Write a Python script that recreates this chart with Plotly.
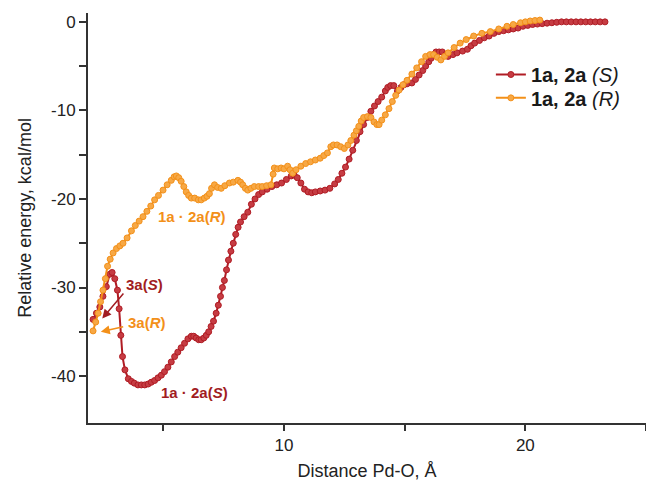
import plotly.graph_objects as go

# Energy profile along Pd-O distance
dist_s = [2.09, 2.23, 2.37, 2.5, 2.64, 2.78, 2.88, 2.99, 3.1, 3.17, 3.24, 3.31, 3.41, 3.55, 3.68,
          3.8, 3.95, 4.09, 4.23, 4.37, 4.5, 4.64, 4.78, 4.92, 5.05, 5.19, 5.33, 5.47, 5.6, 5.74,
          5.88, 6.02, 6.16, 6.26, 6.36, 6.47, 6.57, 6.68, 6.78, 6.88, 6.98, 7.08, 7.19, 7.28, 7.37,
          7.45, 7.53, 7.62, 7.7, 7.8, 7.9, 8.0, 8.1, 8.2, 8.35, 8.5, 8.65, 8.8, 8.95, 9.1,
          9.3, 9.5, 9.7, 9.9, 10.1, 10.3, 10.42, 10.55, 10.7, 10.85, 11.0, 11.15, 11.3, 11.5, 11.7,
          11.9, 12.1, 12.25, 12.4, 12.55, 12.7, 12.85, 13.0, 13.15, 13.3, 13.45, 13.6, 13.75, 13.9, 14.05,
          14.2, 14.3, 14.42, 14.55, 14.7, 14.85, 14.97, 15.1, 15.3, 15.45, 15.6, 15.75, 15.87, 16.0, 16.1,
          16.2, 16.3, 16.43, 16.56, 16.7, 16.8, 17.0, 17.17, 17.4, 17.6, 17.75, 17.9, 18.1, 18.3, 18.5,
          18.7, 18.9, 19.1, 19.3, 19.5, 19.7, 19.9, 20.1, 20.3, 20.5, 20.7, 20.9, 21.1, 21.3, 21.5,
          21.7, 21.9, 22.1, 22.3, 22.5, 22.7, 22.9, 23.1, 23.3]
energy_s = [-33.6, -32.9, -32.2, -31.0, -29.9, -28.5, -28.3, -29.0, -30.3, -32.4, -35.4, -37.8, -39.3, -40.3, -40.6,
            -40.8, -41.0, -41.0, -41.0, -40.9, -40.7, -40.5, -40.2, -39.9, -39.5, -39.0, -38.4, -37.8, -37.3, -36.8,
            -36.3, -35.8, -35.5, -35.5, -35.7, -35.9, -35.9, -35.7, -35.4, -35.0, -34.4, -33.8, -32.9, -32.0, -31.0,
            -30.0, -29.2, -28.0, -26.9, -25.9, -25.0, -24.0, -23.2, -22.6, -22.0, -21.5, -20.6, -20.0, -19.5, -19.2,
            -18.9, -18.6, -18.4, -18.2, -17.8, -17.4, -17.3, -17.6, -18.2, -18.9, -19.2, -19.3, -19.2, -19.1, -19.0,
            -18.8, -18.3, -17.8, -17.1, -16.4, -15.5, -14.5, -13.4, -12.4, -11.6, -10.8, -10.1, -9.5, -9.0, -8.5,
            -7.8, -7.4, -7.2, -7.2, -7.8, -7.4, -7.1, -7.0, -6.9, -6.5, -6.0, -5.5, -5.0, -4.5, -4.1,
            -3.7, -3.4, -3.4, -3.4, -3.7, -3.9, -3.7, -3.5, -3.3, -3.1, -2.7, -2.4, -2.1, -1.8, -1.6,
            -1.3, -1.1, -1.0, -0.9, -0.8, -0.7, -0.5, -0.4, -0.3, -0.25, -0.2, -0.15, -0.1, -0.05, 0.0,
            0.0, 0.0, 0.0, 0.0, 0.0, 0.0, 0.0, 0.0, 0.0]

dist_r = [2.09, 2.2, 2.3, 2.4, 2.5, 2.6, 2.69, 2.8, 2.92, 3.06, 3.2, 3.33, 3.5, 3.68, 3.84,
          4.0, 4.16, 4.32, 4.48, 4.64, 4.8, 4.99, 5.16, 5.33, 5.45, 5.54, 5.64, 5.74, 5.85, 5.95,
          6.05, 6.16, 6.3, 6.45, 6.57, 6.7, 6.81, 6.91, 7.0, 7.12, 7.25, 7.4, 7.55, 7.74, 7.9,
          8.09, 8.2, 8.29, 8.4, 8.5, 8.63, 8.77, 8.95, 9.1, 9.28, 9.46, 9.55, 9.6, 9.74, 9.88,
          10.0, 10.15, 10.25, 10.36, 10.5, 10.7, 10.9, 11.1, 11.3, 11.5, 11.65, 11.8, 11.94, 12.05, 12.2,
          12.35, 12.5, 12.65, 12.77, 12.9, 13.0, 13.1, 13.2, 13.3, 13.46, 13.6, 13.73, 13.85, 13.94, 14.05,
          14.2, 14.35, 14.49, 14.63, 14.77, 14.93, 15.1, 15.3, 15.5, 15.7, 15.87, 16.05, 16.2, 16.35, 16.5,
          16.65, 16.8, 17.05, 17.3, 17.55, 17.86, 18.2, 18.55, 18.9, 19.24, 19.5, 19.8, 20.0, 20.2, 20.4,
          20.6]
energy_r = [-34.9, -33.9, -32.9, -31.6, -30.3, -29.0, -27.6, -26.8, -26.1, -25.6, -25.3, -25.0, -24.4, -23.6, -23.0,
            -22.5, -22.0, -21.4, -20.8, -20.1, -19.6, -19.0, -18.4, -17.9, -17.5, -17.4, -17.6, -18.0, -18.6, -19.2,
            -19.6, -19.9, -19.9, -20.1, -20.1, -19.9, -19.7, -19.4, -18.8, -18.4, -18.7, -18.8, -18.5, -18.2, -18.1,
            -17.9, -18.1, -18.4, -18.8, -19.0, -18.8, -18.6, -18.6, -18.6, -18.5, -18.4, -17.2, -16.5, -16.6, -16.5,
            -16.6, -16.3, -16.7, -17.1, -16.7, -16.3, -16.0, -15.8, -15.6, -15.4, -15.1, -14.8, -14.1, -13.9, -13.9,
            -14.1, -14.3, -13.9, -13.4, -12.8, -12.3, -11.8, -11.2, -10.8, -10.7, -10.8, -11.3, -11.6, -11.6, -11.1,
            -10.5, -9.8, -9.0, -8.3, -7.7, -7.1, -6.6, -5.9, -5.2, -4.5, -3.9, -3.7, -3.7, -4.0, -4.3,
            -3.9, -3.5, -2.9, -2.4, -2.0, -1.6, -1.3, -1.1, -0.8, -0.5, -0.3, -0.1, 0.0, 0.1, 0.15,
            0.2]

x_ticks = [10, 20]
x_minor_ticks = [5, 15, 25]
y_ticks = [0, -10, -20, -30, -40]
y_tick_labels = ["0", "-10", "-20", "-30", "-40"]
y_minor_ticks = [-5, -15, -25, -35]

RED = "#B01C24"
ORANGE = "#F39019"
AXIS = "#333333"
FONT = "Arial, Liberation Sans, sans-serif"

fig = go.Figure()

fig.add_trace(go.Scatter(
    x=dist_s, y=energy_s, mode="lines+markers",
    name="<b>1a, 2a</b> <i>(S)</i>", legend="legend",
    line=dict(color=RED, width=2),
    marker=dict(size=6, color="#C63C43", line=dict(color=RED, width=1)),
))
fig.add_trace(go.Scatter(
    x=dist_r, y=energy_r, mode="lines+markers",
    name="<b>1a, 2a</b> <i>(R)</i>", legend="legend2",
    line=dict(color=ORANGE, width=2),
    marker=dict(size=6, color="#F7A845", line=dict(color=ORANGE, width=1)),
))

# labels on the curves
fig.add_annotation(x=6.2, y=-22.0, text="<b>1a · 2a(<i>R</i>)</b>", showarrow=False,
                   font=dict(family=FONT, size=15, color=ORANGE))
fig.add_annotation(x=6.3, y=-41.8, text="<b>1a · 2a(<i>S</i>)</b>", showarrow=False,
                   font=dict(family=FONT, size=15, color="#A11C22"))
fig.add_annotation(x=4.24, y=-29.7, text="<b>3a(<i>S</i>)</b>", showarrow=False,
                   font=dict(family=FONT, size=15, color="#A11C22"))
fig.add_annotation(x=4.34, y=-34.0, text="<b>3a(<i>R</i>)</b>", showarrow=False,
                   font=dict(family=FONT, size=15, color=ORANGE))
# arrows
fig.add_annotation(x=2.47, y=-33.5, ax=3.40, ay=-30.5, axref="x", ayref="y", text="",
                   showarrow=True, arrowhead=2, arrowsize=1.2, arrowwidth=1.5, arrowcolor="#A11C22")
fig.add_annotation(x=2.41, y=-35.0, ax=3.40, ay=-34.4, axref="x", ayref="y", text="",
                   showarrow=True, arrowhead=2, arrowsize=1.2, arrowwidth=1.5, arrowcolor=ORANGE)

legend_style = dict(xanchor="left", yanchor="middle", bgcolor="rgba(0,0,0,0)", itemwidth=30,
                    font=dict(family=FONT, size=20, color="#1A1A1A"))

fig.update_layout(
    width=646, height=481,
    margin=dict(l=88, r=0, t=13, b=58),
    paper_bgcolor="white", plot_bgcolor="white",
    font=dict(family=FONT, size=17, color="#222222"),
    showlegend=True,
    legend=dict(x=0.722, y=0.85, **legend_style),
    legend2=dict(x=0.722, y=0.793, **legend_style),
)
fig.update_xaxes(
    range=[1.88, 25.0], showgrid=False, zeroline=False, automargin=False,
    showline=True, linecolor=AXIS, linewidth=2,
    tickvals=x_ticks, ticks="outside", ticklen=6, tickwidth=2, tickcolor=AXIS,
    minor=dict(tickvals=x_minor_ticks, ticks="outside", ticklen=6, tickwidth=2, tickcolor=AXIS),
    title=dict(text="Distance Pd-O, Å", font=dict(size=18)),
)
fig.update_yaxes(
    range=[-45.3, 1.0], showgrid=False, zeroline=False, automargin=False,
    showline=True, linecolor=AXIS, linewidth=2,
    tickvals=y_ticks, ticktext=y_tick_labels, ticks="outside", ticklen=7, tickwidth=2, tickcolor=AXIS,
    minor=dict(tickvals=y_minor_ticks, ticks="outside", ticklen=7, tickwidth=2, tickcolor=AXIS),
    title=dict(text="Relative energy, kcal/mol", font=dict(size=18)),
)

# drop the default page margin so the figure sits at the window corner
fig.write_html("out.html", config={"displayModeBar": False},
               post_script="document.body.style.margin='0px';")
